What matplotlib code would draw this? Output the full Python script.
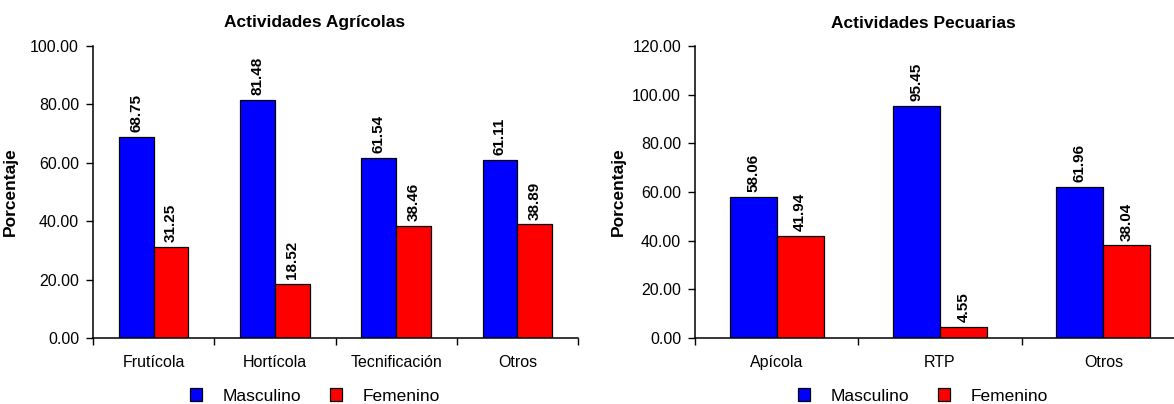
import matplotlib
matplotlib.use("Agg")
import matplotlib.pyplot as plt
from matplotlib.patches import Patch
import numpy as np

plt.rcParams['font.family'] = ['Liberation Sans', 'DejaVu Sans']

# datos
agr_cats = ["Frutícola", "Hortícola", "Tecnificación", "Otros"]
agr_masc = [68.75, 81.48, 61.54, 61.11]
agr_fem = [31.25, 18.52, 38.46, 38.89]

pec_cats = ["Apícola", "RTP", "Otros"]
pec_masc = [58.06, 95.45, 61.96]
pec_fem = [41.94, 4.55, 38.04]

series_names = ["Masculino", "Femenino"]
colores = ["#0000FF", "#FF0000"]

W, H = 1174, 404
fig = plt.figure(figsize=(W / 100, H / 100), dpi=100)

def px_axes(x0, x1, y_top, y_bot):
    return fig.add_axes([x0 / W, 1 - y_bot / H, (x1 - x0) / W, (y_bot - y_top) / H])

def dibujar(ax, cats, masc, fem, ymax, titulo, tx, lab_x):
    n = len(cats)
    x = np.arange(n)
    w = 0.287
    b1 = ax.bar(x - w / 2, masc, w, color=colores[0], edgecolor="black", linewidth=0.9)
    b2 = ax.bar(x + w / 2, fem, w, color=colores[1], edgecolor="black", linewidth=0.9)
    for bars, vals in ((b1, masc), (b2, fem)):
        for r, v in zip(bars, vals):
            ax.annotate(f"{v:.2f}", (r.get_x() + r.get_width() / 2, v),
                        xytext=(0, 3.5), textcoords="offset points",
                        rotation=90, ha="center", va="bottom",
                        fontsize=11, fontweight="bold")
    ax.set_xlim(-0.5, n - 0.5)
    ax.set_ylim(0, ymax)
    ax.set_yticks(np.arange(0, ymax + 1, 20))
    ax.set_yticklabels([f"{t:.2f}" for t in np.arange(0, ymax + 1, 20)])
    ax.tick_params(axis="y", direction="out", length=5, width=1, pad=5, labelsize=11.5)
    ax.set_xticks(np.arange(-0.5, n, 1.0))
    ax.set_xticklabels([])
    ax.tick_params(axis="x", which="major", direction="out", length=5, width=1)
    ax.set_xticks(x, minor=True)
    ax.set_xticklabels(cats, minor=True)
    ax.tick_params(axis="x", which="minor", length=0, pad=12, labelsize=11.5)
    for s in ("top", "right"):
        ax.spines[s].set_visible(False)
    for s in ("left", "bottom"):
        ax.spines[s].set_linewidth(1.1)
    ax.set_ylabel("Porcentaje", fontsize=12.5, fontweight="bold")
    ax.yaxis.set_label_coords(lab_x, 0.5)
    fig.text(tx / W, 1 - 23 / H, titulo, ha="center", va="center",
             fontsize=12.5, fontweight="bold")
    handles = [Patch(facecolor=c, edgecolor="black", linewidth=0.9) for c in colores]
    fig.legend(handles, series_names, loc="center", bbox_to_anchor=(tx / W, 1 - 396 / H),
               ncol=2, frameon=False, fontsize=12.5, handlelength=0.7, handleheight=0.7,
               handletextpad=1.2, columnspacing=1.6, borderpad=0)

ax1 = px_axes(93, 578, 46, 338)
dibujar(ax1, agr_cats, agr_masc, agr_fem, 100, "Actividades Agrícolas", 315, -0.155)

ax2 = px_axes(695, 1185, 46, 338)
dibujar(ax2, pec_cats, pec_masc, pec_fem, 120, "Actividades Pecuarias", 923, -0.141)

fig.savefig("out.png", dpi=100)
